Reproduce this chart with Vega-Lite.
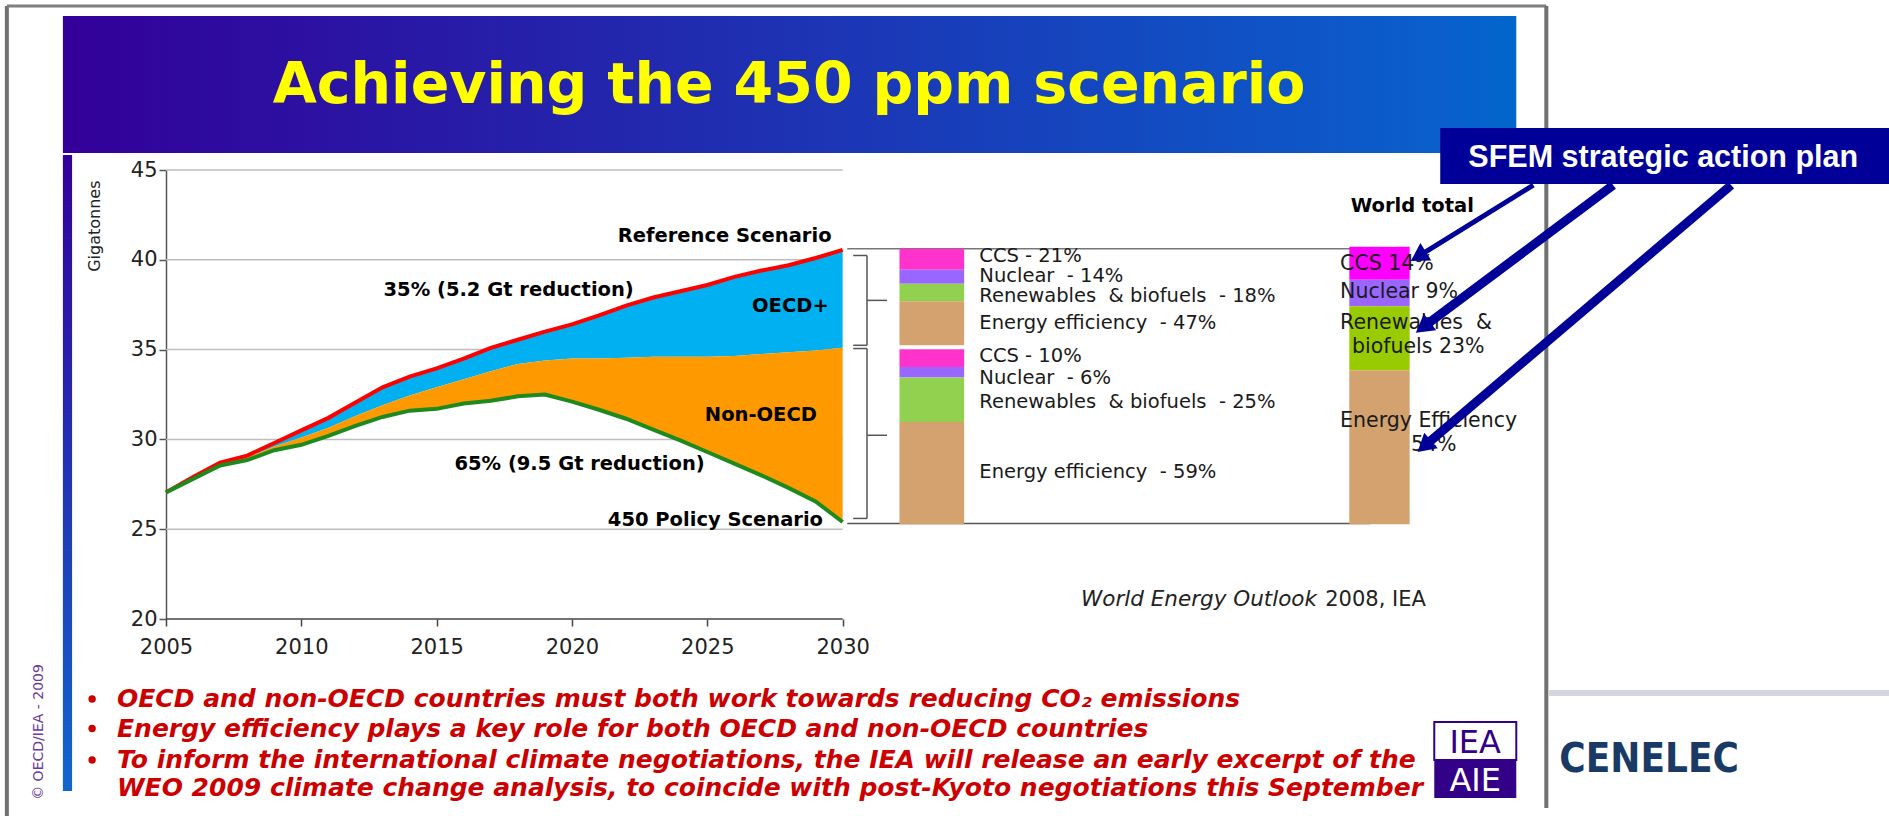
{
  "$schema": "https://vega.github.io/schema/vega-lite/v6.json",
  "width": 1245,
  "height": 449,
  "autosize": {"type": "none"},
  "padding": {"left": 166, "top": 170, "right": 478, "bottom": 197},
  "background": "white",
  "config": {"view": {"stroke": null}, "font": "DejaVu Sans"},
  "resolve": {"scale": {"color": "independent"}},
  "datasets": {
    "series": [
      {"year": 2005, "ref": 27.05, "mid": 27.05, "policy": 27.05},
      {"year": 2006, "ref": 27.9, "mid": 27.85, "policy": 27.8},
      {"year": 2007, "ref": 28.7, "mid": 28.6, "policy": 28.55},
      {"year": 2008, "ref": 29.1, "mid": 29.0, "policy": 28.85},
      {"year": 2009, "ref": 29.8, "mid": 29.6, "policy": 29.4},
      {"year": 2010, "ref": 30.5, "mid": 30.1, "policy": 29.7},
      {"year": 2011, "ref": 31.2, "mid": 30.65, "policy": 30.2},
      {"year": 2012, "ref": 32.05, "mid": 31.3, "policy": 30.75},
      {"year": 2013, "ref": 32.9, "mid": 31.9, "policy": 31.25},
      {"year": 2014, "ref": 33.5, "mid": 32.45, "policy": 31.6},
      {"year": 2015, "ref": 33.95, "mid": 32.9, "policy": 31.7},
      {"year": 2016, "ref": 34.5, "mid": 33.35, "policy": 32.0},
      {"year": 2017, "ref": 35.1, "mid": 33.8, "policy": 32.15},
      {"year": 2018, "ref": 35.55, "mid": 34.2, "policy": 32.4},
      {"year": 2019, "ref": 36.0, "mid": 34.4, "policy": 32.5},
      {"year": 2020, "ref": 36.4, "mid": 34.5, "policy": 32.1},
      {"year": 2021, "ref": 36.9, "mid": 34.5, "policy": 31.65},
      {"year": 2022, "ref": 37.45, "mid": 34.55, "policy": 31.15},
      {"year": 2023, "ref": 37.9, "mid": 34.6, "policy": 30.55},
      {"year": 2024, "ref": 38.25, "mid": 34.6, "policy": 29.95},
      {"year": 2025, "ref": 38.6, "mid": 34.6, "policy": 29.3},
      {"year": 2026, "ref": 39.05, "mid": 34.65, "policy": 28.65},
      {"year": 2027, "ref": 39.4, "mid": 34.75, "policy": 28.0},
      {"year": 2028, "ref": 39.7, "mid": 34.85, "policy": 27.3},
      {"year": 2029, "ref": 40.1, "mid": 34.95, "policy": 26.55},
      {"year": 2030, "ref": 40.55, "mid": 35.1, "policy": 25.4}
    ],
    "grid": [{"gt": 25}, {"gt": 30}, {"gt": 35}, {"gt": 40}, {"gt": 45}],
    "bars": [
      {"bar": "OECD+", "tech": "CCS", "share": 21, "from": 39.45, "to": 40.62},
      {"bar": "OECD+", "tech": "Nuclear", "share": 14, "from": 38.67, "to": 39.45},
      {"bar": "OECD+", "tech": "Renewables & biofuels", "share": 18, "from": 37.69, "to": 38.67},
      {"bar": "OECD+", "tech": "Energy efficiency", "share": 47, "from": 35.24, "to": 37.69},
      {"bar": "Non-OECD", "tech": "CCS", "share": 10, "from": 34.03, "to": 35.02},
      {"bar": "Non-OECD", "tech": "Nuclear", "share": 6, "from": 33.44, "to": 34.03},
      {"bar": "Non-OECD", "tech": "Renewables & biofuels", "share": 25, "from": 30.97, "to": 33.44},
      {"bar": "Non-OECD", "tech": "Energy efficiency", "share": 59, "from": 25.27, "to": 30.97},
      {"bar": "World total", "tech": "CCS", "share": 14, "from": 38.89, "to": 40.72},
      {"bar": "World total", "tech": "Nuclear", "share": 9, "from": 37.41, "to": 38.89},
      {"bar": "World total", "tech": "Renewables & biofuels", "share": 23, "from": 33.85, "to": 37.41},
      {"bar": "World total", "tech": "Energy efficiency", "share": 54, "from": 25.28, "to": 33.85}
    ],
    "braces": [
      {"band": "OECD+", "top": 40.24, "mid": 37.74, "bottom": 35.24},
      {"band": "Non-OECD", "top": 35.06, "mid": 30.23, "bottom": 25.6}
    ],
    "chartLabels": [
      {"label": "Reference Scenario", "year": 2025.64, "gt": 41.35},
      {"label": "35% (5.2 Gt reduction)", "year": 2017.66, "gt": 38.34},
      {"label": "OECD+", "year": 2028.07, "gt": 37.41},
      {"label": "Non-OECD", "year": 2026.98, "gt": 31.38},
      {"label": "65% (9.5 Gt reduction)", "year": 2020.28, "gt": 28.63},
      {"label": "450 Policy Scenario", "year": 2025.3, "gt": 25.53}
    ],
    "barLabels": [
      {"label": "CCS - 21%", "gt": 40.2},
      {"label": "Nuclear\u00a0 - 14%", "gt": 39.1},
      {"label": "Renewables\u00a0 & biofuels\u00a0 - 18%", "gt": 37.98},
      {"label": "Energy efficiency\u00a0 - 47%", "gt": 36.46},
      {"label": "CCS - 10%", "gt": 34.62},
      {"label": "Nuclear\u00a0 - 6%", "gt": 33.44},
      {"label": "Renewables\u00a0 & biofuels\u00a0 - 25%", "gt": 32.07},
      {"label": "Energy efficiency\u00a0 - 59%", "gt": 28.2}
    ],
    "worldLabels": [
      {"label": "CCS 14%", "year": 2048.38, "gt": 39.77},
      {"label": "Nuclear 9%", "year": 2048.38, "gt": 38.19},
      {"label": "Renewables\u00a0 &", "year": 2048.38, "gt": 36.5},
      {"label": "biofuels 23%", "year": 2048.82, "gt": 35.13},
      {"label": "Energy Efficiency", "year": 2048.38, "gt": 31.02},
      {"label": "54%", "year": 2051.0, "gt": 29.69}
    ],
    "arrows": [
      {"target": "CCS", "x0": 2055.52, "y0": 44.16, "x1": 2051.27, "y1": 40.19, "angle": 238},
      {"target": "Renewables", "x0": 2058.47, "y0": 44.16, "x1": 2051.44, "y1": 36.24, "angle": 233},
      {"target": "Efficiency", "x0": 2062.83, "y0": 44.16, "x1": 2051.49, "y1": 29.62, "angle": 229}
    ],
    "bullets": [
      {"text": "OECD and non-OECD countries must both work towards reducing CO₂ emissions", "gt": 15.55, "dot": true},
      {"text": "Energy efficiency plays a key role for both OECD and non-OECD countries", "gt": 13.9, "dot": true},
      {"text": "To inform the international climate negotiations, the IEA will release an early excerpt of the", "gt": 12.15, "dot": true},
      {"text": "WEO 2009 climate change analysis, to coincide with post-Kyoto negotiations this September", "gt": 10.6, "dot": false}
    ]
  },
  "layer": [
    {
      "data": {"values": [{}]},
      "mark": {"type": "rule", "color": "#707070", "strokeWidth": 4},
      "encoding": {"x": {"datum": 1999.12}, "y": {"datum": 54.13}, "y2": {"datum": 9.03}}
    },
    {
      "data": {"values": [{}]},
      "mark": {"type": "rule", "color": "#7f7f7f", "strokeWidth": 3},
      "encoding": {"x": {"datum": 1999.12}, "x2": {"datum": 2056.0}, "y": {"datum": 54.13}}
    },
    {
      "data": {"values": [{}]},
      "mark": {"type": "rule", "color": "#707070", "strokeWidth": 4},
      "encoding": {"x": {"datum": 2056.0}, "y": {"datum": 54.13}, "y2": {"datum": 9.48}}
    },
    {
      "data": {"values": [{}]},
      "mark": {"type": "rule", "color": "#d3d6dc", "strokeWidth": 6},
      "encoding": {"x": {"datum": 2056.07}, "x2": {"datum": 2070}, "y": {"datum": 15.88}}
    },
    {
      "data": {"values": [{}]},
      "mark": {"type": "rect", "color": {"gradient": "linear", "x1": 0, "y1": 0, "x2": 1, "y2": 0, "stops": [{"offset": 0, "color": "#330099"}, {"offset": 0.95, "color": "#0a5fcc"}, {"offset": 1, "color": "#0066cc"}]}},
      "encoding": {"x": {"datum": 2001.19}, "x2": {"datum": 2054.89}, "y": {"datum": 53.57}, "y2": {"datum": 45.95}}
    },
    {
      "data": {"values": [{}]},
      "mark": {"type": "rect", "color": {"gradient": "linear", "x1": 0, "y1": 0, "x2": 0, "y2": 1, "stops": [{"offset": 0, "color": "#330099"}, {"offset": 1, "color": "#1166cc"}]}},
      "encoding": {"x": {"datum": 2001.19}, "x2": {"datum": 2001.53}, "y": {"datum": 45.84}, "y2": {"datum": 10.42}}
    },
    {
      "data": {"name": "grid"},
      "mark": {"type": "rule", "color": "#bdbdbd", "strokeWidth": 1.5},
      "encoding": {"x": {"datum": 2005}, "x2": {"datum": 2030}, "y": {"field": "gt", "type": "quantitative"}}
    },
    {
      "data": {"name": "series"},
      "mark": {"type": "area", "color": "#00b0f0"},
      "encoding": {
        "x": {
          "field": "year", "type": "quantitative",
          "scale": {"domain": [2005, 2051], "nice": false, "zero": false},
          "axis": {"values": [2005, 2010, 2015, 2020, 2025, 2030], "format": "d", "domain": false, "grid": false, "title": null, "tickColor": "#444444", "tickSize": 7, "tickWidth": 1.5, "labelFontSize": 21, "labelColor": "#222222", "labelFont": "DejaVu Sans", "labelPadding": 10, "labelFlush": false}
        },
        "y": {
          "field": "ref", "type": "quantitative",
          "scale": {"domain": [20, 45], "nice": false, "zero": false},
          "axis": {"values": [20, 25, 30, 35, 40, 45], "grid": false, "title": "Gigatonnes", "domainColor": "#555555", "domainWidth": 1.5, "tickColor": "#555555", "tickSize": 7, "tickWidth": 1.5, "labelFontSize": 21, "labelColor": "#222222", "labelFont": "DejaVu Sans", "labelPadding": 2, "titleFont": "DejaVu Sans", "titleFontSize": 16, "titleFontWeight": "normal", "titleColor": "#222222", "titleX": -72, "titleY": 10, "titleAlign": "right", "titleBaseline": "middle", "titleAngle": 270}
        },
        "y2": {"field": "mid"}
      }
    },
    {
      "data": {"name": "series"},
      "mark": {"type": "area", "color": "#ff9900"},
      "encoding": {"x": {"field": "year", "type": "quantitative"}, "y": {"field": "mid", "type": "quantitative"}, "y2": {"field": "policy"}}
    },
    {
      "data": {"name": "series"},
      "mark": {"type": "line", "color": "#ff0000", "strokeWidth": 4},
      "encoding": {"x": {"field": "year", "type": "quantitative"}, "y": {"field": "ref", "type": "quantitative"}}
    },
    {
      "data": {"name": "series"},
      "mark": {"type": "line", "color": "#1e8a1e", "strokeWidth": 4},
      "encoding": {"x": {"field": "year", "type": "quantitative"}, "y": {"field": "policy", "type": "quantitative"}}
    },
    {
      "data": {"values": [{}]},
      "mark": {"type": "rule", "color": "#444444", "strokeWidth": 1.5},
      "encoding": {"x": {"datum": 2005}, "x2": {"datum": 2030}, "y": {"datum": 20}}
    },
    {
      "data": {"values": [{}]},
      "mark": {"type": "rule", "color": "#777777", "strokeWidth": 1.5},
      "encoding": {"x": {"datum": 2030.17}, "x2": {"datum": 2049.49}, "y": {"datum": 40.62}}
    },
    {
      "data": {"values": [{}]},
      "mark": {"type": "rule", "color": "#555555", "strokeWidth": 1.5},
      "encoding": {"x": {"datum": 2030.17}, "x2": {"datum": 2049.49}, "y": {"datum": 25.32}}
    },
    {
      "data": {"name": "braces"},
      "mark": {"type": "rule", "color": "#555555", "strokeWidth": 1.5},
      "encoding": {"x": {"datum": 2030.9}, "y": {"field": "top", "type": "quantitative"}, "y2": {"field": "bottom"}}
    },
    {
      "data": {"name": "braces"},
      "mark": {"type": "rule", "color": "#555555", "strokeWidth": 1.5},
      "encoding": {"x": {"datum": 2030.39}, "x2": {"datum": 2030.9}, "y": {"field": "top", "type": "quantitative"}}
    },
    {
      "data": {"name": "braces"},
      "mark": {"type": "rule", "color": "#555555", "strokeWidth": 1.5},
      "encoding": {"x": {"datum": 2030.39}, "x2": {"datum": 2030.9}, "y": {"field": "bottom", "type": "quantitative"}}
    },
    {
      "data": {"name": "braces"},
      "mark": {"type": "rule", "color": "#555555", "strokeWidth": 1.5},
      "encoding": {"x": {"datum": 2030.9}, "x2": {"datum": 2031.64}, "y": {"field": "mid", "type": "quantitative"}}
    },
    {
      "data": {"name": "bars"},
      "transform": [{"filter": "datum.bar !== 'World total'"}],
      "mark": {"type": "rect"},
      "encoding": {
        "x": {"datum": 2032.1}, "x2": {"datum": 2034.49},
        "y": {"field": "to", "type": "quantitative"}, "y2": {"field": "from"},
        "color": {"field": "tech", "type": "nominal", "legend": null, "scale": {"domain": ["CCS", "Nuclear", "Renewables & biofuels", "Energy efficiency"], "range": ["#ff33cc", "#9966ff", "#92d050", "#d4a26e"]}}
      }
    },
    {
      "data": {"name": "bars"},
      "transform": [{"filter": "datum.bar === 'World total'"}],
      "mark": {"type": "rect"},
      "encoding": {
        "x": {"datum": 2048.72}, "x2": {"datum": 2050.95},
        "y": {"field": "to", "type": "quantitative"}, "y2": {"field": "from"},
        "color": {"field": "tech", "type": "nominal", "legend": null, "scale": {"domain": ["CCS", "Nuclear", "Renewables & biofuels", "Energy efficiency"], "range": ["#ff00ff", "#9966ff", "#99cc00", "#d4a26e"]}}
      }
    },
    {
      "data": {"name": "chartLabels"},
      "mark": {"type": "text", "font": "DejaVu Sans", "fontWeight": "bold", "fontSize": 19.5, "color": "#000000", "align": "center", "baseline": "middle"},
      "encoding": {"x": {"field": "year", "type": "quantitative"}, "y": {"field": "gt", "type": "quantitative"}, "text": {"field": "label"}}
    },
    {
      "data": {"name": "barLabels"},
      "mark": {"type": "text", "font": "DejaVu Sans", "fontSize": 19.5, "color": "#1a1a1a", "align": "left", "baseline": "middle"},
      "encoding": {"x": {"datum": 2035.05}, "y": {"field": "gt", "type": "quantitative"}, "text": {"field": "label"}}
    },
    {
      "data": {"name": "worldLabels"},
      "mark": {"type": "text", "font": "DejaVu Sans", "fontSize": 20.5, "color": "#1a1a1a", "align": "left", "baseline": "middle"},
      "encoding": {"x": {"field": "year", "type": "quantitative"}, "y": {"field": "gt", "type": "quantitative"}, "text": {"field": "label"}}
    },
    {
      "data": {"values": [{}]},
      "mark": {"type": "text", "text": "World total", "font": "DejaVu Sans", "fontWeight": "bold", "fontSize": 19.5, "color": "#000000", "align": "center", "baseline": "alphabetic"},
      "encoding": {"x": {"datum": 2051.05}, "y": {"datum": 42.66}}
    },
    {
      "data": {"values": [{}]},
      "mark": {"type": "text", "text": "World Energy Outlook", "font": "DejaVu Sans", "fontStyle": "italic", "fontSize": 21.5, "color": "#222222", "align": "left", "baseline": "alphabetic"},
      "encoding": {"x": {"datum": 2038.81}, "y": {"datum": 20.72}}
    },
    {
      "data": {"values": [{}]},
      "mark": {"type": "text", "text": "2008, IEA", "font": "DejaVu Sans", "fontSize": 21, "color": "#222222", "align": "left", "baseline": "alphabetic"},
      "encoding": {"x": {"datum": 2047.83}, "y": {"datum": 20.72}}
    },
    {
      "data": {"values": [{}]},
      "mark": {"type": "text", "text": "Achieving the 450 ppm scenario", "font": "DejaVu Sans", "fontWeight": "bold", "fontSize": 57, "color": "#ffff00", "align": "center", "baseline": "alphabetic"},
      "encoding": {"x": {"datum": 2028.02}, "y": {"datum": 48.73}}
    },
    {
      "data": {"values": [{}]},
      "mark": {"type": "rect", "color": "#000099"},
      "encoding": {"x": {"datum": 2052.08}, "x2": {"datum": 2070}, "y": {"datum": 47.34}, "y2": {"datum": 44.22}}
    },
    {
      "data": {"values": [{}]},
      "mark": {"type": "text", "text": "SFEM strategic action plan", "font": "Liberation Sans", "fontWeight": "bold", "fontSize": 30.5, "color": "#ffffff", "align": "center", "baseline": "alphabetic"},
      "encoding": {"x": {"datum": 2060.32}, "y": {"datum": 45.17}}
    },
    {
      "data": {"name": "arrows"},
      "transform": [{"filter": "datum.target === 'CCS'"}],
      "mark": {"type": "rule", "color": "#000099", "strokeWidth": 5},
      "encoding": {"x": {"field": "x0", "type": "quantitative"}, "y": {"field": "y0", "type": "quantitative"}, "x2": {"field": "x1"}, "y2": {"field": "y1"}}
    },
    {
      "data": {"name": "arrows"},
      "transform": [{"filter": "datum.target !== 'CCS'"}],
      "mark": {"type": "rule", "color": "#000099", "strokeWidth": 9},
      "encoding": {"x": {"field": "x0", "type": "quantitative"}, "y": {"field": "y0", "type": "quantitative"}, "x2": {"field": "x1"}, "y2": {"field": "y1"}}
    },
    {
      "data": {"name": "arrows"},
      "mark": {"type": "point", "shape": "triangle-up", "filled": true, "color": "#000099", "opacity": 1, "size": 420},
      "encoding": {"x": {"field": "x1", "type": "quantitative"}, "y": {"field": "y1", "type": "quantitative"}, "angle": {"field": "angle", "type": "quantitative", "scale": null}}
    },
    {
      "data": {"name": "bullets"},
      "transform": [{"filter": "datum.dot"}],
      "mark": {"type": "point", "shape": "circle", "filled": true, "color": "#cc0000", "opacity": 1, "size": 55},
      "encoding": {"x": {"datum": 2002.27}, "y": {"field": "gt", "type": "quantitative"}}
    },
    {
      "data": {"name": "bullets"},
      "mark": {"type": "text", "font": "DejaVu Sans", "fontWeight": "bold", "fontStyle": "italic", "fontSize": 25, "color": "#cc0000", "align": "left", "baseline": "middle"},
      "encoding": {"x": {"datum": 2003.19}, "y": {"field": "gt", "type": "quantitative"}, "text": {"field": "text"}}
    },
    {
      "data": {"values": [{}]},
      "mark": {"type": "text", "text": "© OECD/IEA - 2009", "font": "DejaVu Sans", "fontSize": 14, "color": "#6a3aa0", "align": "center", "baseline": "middle", "angle": 270},
      "encoding": {"x": {"datum": 2000.31}, "y": {"datum": 13.71}}
    },
    {
      "data": {"values": [{}]},
      "mark": {"type": "rect", "color": "#ffffff", "stroke": "#330088", "strokeWidth": 2},
      "encoding": {"x": {"datum": 2051.86}, "x2": {"datum": 2054.89}, "y": {"datum": 14.27}, "y2": {"datum": 12.15}}
    },
    {
      "data": {"values": [{}]},
      "mark": {"type": "rect", "color": "#330088"},
      "encoding": {"x": {"datum": 2051.86}, "x2": {"datum": 2054.89}, "y": {"datum": 12.15}, "y2": {"datum": 10.04}}
    },
    {
      "data": {"values": [{}]},
      "mark": {"type": "text", "text": "IEA", "font": "DejaVu Sans", "fontSize": 32, "color": "#330088", "align": "center", "baseline": "middle"},
      "encoding": {"x": {"datum": 2053.37}, "y": {"datum": 13.09}}
    },
    {
      "data": {"values": [{}]},
      "mark": {"type": "text", "text": "AIE", "font": "DejaVu Sans", "fontSize": 32, "color": "#ffffff", "align": "center", "baseline": "middle"},
      "encoding": {"x": {"datum": 2053.37}, "y": {"datum": 10.98}}
    },
    {
      "data": {"values": [{}]},
      "mark": {"type": "text", "text": "CENELEC", "font": "DejaVu Sans Condensed, Roboto, Liberation Sans", "fontWeight": "bold", "fontSize": 40, "color": "#1a3a66", "align": "center", "baseline": "middle"},
      "encoding": {"x": {"datum": 2059.8}, "y": {"datum": 12.15}}
    }
  ]
}
